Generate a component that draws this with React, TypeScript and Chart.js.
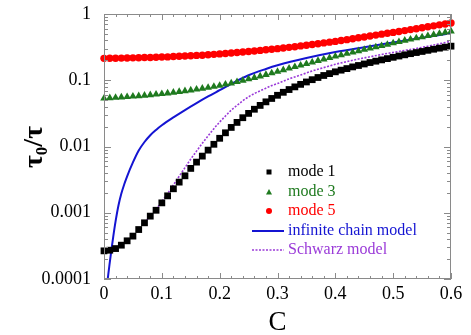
import React, { useEffect, useRef } from 'react';
import { Chart, registerables } from 'chart.js';

Chart.register(...registerables);

const FONT = '"Liberation Serif", "Times New Roman", serif';

// x grid of the simulated modes (C)
const C_MODE = [
  0, 0.01, 0.02, 0.03, 0.04, 0.05, 0.06, 0.07, 0.08, 0.09,
  0.1, 0.11, 0.12, 0.13, 0.14, 0.15, 0.16, 0.17, 0.18, 0.19,
  0.2, 0.21, 0.22, 0.23, 0.24, 0.25, 0.26, 0.27, 0.28, 0.29,
  0.3, 0.31, 0.32, 0.33, 0.34, 0.35, 0.36, 0.37, 0.38, 0.39,
  0.4, 0.41, 0.42, 0.43, 0.44, 0.45, 0.46, 0.47, 0.48, 0.49,
  0.5, 0.51, 0.52, 0.53, 0.54, 0.55, 0.56, 0.57, 0.58, 0.59, 0.6,
];

const MODE1 = [
  0.000266, 0.000272, 0.000288, 0.000324, 0.000377, 0.000444, 0.000558, 0.000705, 0.000889, 0.00109,
  0.00141, 0.0018, 0.0023, 0.0029, 0.00361, 0.00467, 0.00581, 0.00716, 0.00881, 0.0108,
  0.0133, 0.0161, 0.0194, 0.0231, 0.0272, 0.0316, 0.0365, 0.0417, 0.0472, 0.0531,
  0.0593, 0.0658, 0.0724, 0.0794, 0.0867, 0.0942, 0.102, 0.11, 0.118, 0.126,
  0.134, 0.142, 0.15, 0.159, 0.167, 0.176, 0.185, 0.194, 0.203, 0.212,
  0.222, 0.232, 0.242, 0.252, 0.262, 0.272, 0.283, 0.294, 0.305, 0.316, 0.327,
];

const MODE3 = [
  0.0533, 0.054, 0.0547, 0.0555, 0.0562, 0.057, 0.0579, 0.0589, 0.06, 0.0611,
  0.0624, 0.0638, 0.0653, 0.067, 0.0689, 0.0708, 0.0729, 0.0752, 0.0776, 0.0804,
  0.0832, 0.0865, 0.0902, 0.0944, 0.0989, 0.104, 0.109, 0.115, 0.121, 0.128,
  0.135, 0.143, 0.151, 0.159, 0.168, 0.177, 0.187, 0.197, 0.208, 0.218,
  0.229, 0.24, 0.252, 0.264, 0.277, 0.29, 0.303, 0.316, 0.33, 0.345,
  0.363, 0.38, 0.398, 0.414, 0.432, 0.449, 0.468, 0.486, 0.507, 0.527, 0.55,
];

const MODE5 = [
  0.214, 0.215, 0.215, 0.216, 0.217, 0.218, 0.219, 0.22, 0.221, 0.222,
  0.224, 0.225, 0.228, 0.23, 0.232, 0.234, 0.237, 0.239, 0.243, 0.246,
  0.25, 0.254, 0.258, 0.262, 0.267, 0.272, 0.277, 0.282, 0.288, 0.294,
  0.3, 0.307, 0.314, 0.321, 0.33, 0.338, 0.347, 0.356, 0.366, 0.376,
  0.386, 0.398, 0.41, 0.423, 0.437, 0.45, 0.465, 0.48, 0.496, 0.512,
  0.528, 0.545, 0.562, 0.581, 0.6, 0.619, 0.641, 0.662, 0.686, 0.708, 0.733,
];

// infinite chain model curve
const C_CHAIN = [
  0.005, 0.0065, 0.01, 0.013, 0.016, 0.02, 0.025, 0.03, 0.035, 0.04,
  0.05, 0.06, 0.07, 0.08, 0.09, 0.1, 0.12, 0.14, 0.16, 0.18, 0.2, 0.22,
  0.25, 0.28, 0.3, 0.35, 0.4, 0.45, 0.5, 0.55, 0.6,
];
const CHAIN = [
  0.0000708, 0.0001, 0.000178, 0.000282, 0.000437, 0.000741, 0.00129, 0.00195, 0.00269, 0.00355,
  0.00575, 0.00871, 0.0117, 0.0148, 0.0178, 0.0209, 0.0275, 0.0355, 0.0452, 0.0569, 0.0708, 0.0881,
  0.119, 0.148, 0.168, 0.216, 0.266, 0.316, 0.372, 0.437, 0.513,
];

// Schwarz model curve
const C_SCHWARZ = [
  0.07, 0.08, 0.09, 0.1, 0.11, 0.12, 0.13, 0.14, 0.15, 0.16, 0.17, 0.18,
  0.19, 0.2, 0.21, 0.22, 0.23, 0.24, 0.25, 0.26, 0.27, 0.28, 0.29, 0.3,
  0.32, 0.34, 0.36, 0.38, 0.4, 0.42, 0.44, 0.46, 0.48, 0.5, 0.52, 0.54, 0.56, 0.58, 0.6,
];
const SCHWARZ = [
  0.000708, 0.000891, 0.00112, 0.00148, 0.00195, 0.00263, 0.00355, 0.00479, 0.00646, 0.00851, 0.0112, 0.0145,
  0.0186, 0.0234, 0.0288, 0.0355, 0.0417, 0.049, 0.0562, 0.0631, 0.0692, 0.0759, 0.0832, 0.0891,
  0.105, 0.12, 0.138, 0.155, 0.174, 0.191, 0.209, 0.226, 0.245, 0.263, 0.282, 0.302, 0.327, 0.355, 0.389,
];

const X_TICKS = [0, 0.1, 0.2, 0.3, 0.4, 0.5, 0.6];
const X_TICK_LABELS = ['0', '0.1', '0.2', '0.3', '0.4', '0.5', '0.6'];
const Y_TICKS = [0.0001, 0.001, 0.01, 0.1, 1];
const Y_TICK_LABELS = ['0.0001', '0.001', '0.01', '0.1', '1'];

const SERIES_NAMES = ['mode 1', 'mode 3', 'mode 5', 'infinite chain model', 'Schwarz model'];
const X_TITLE = 'C';

const COL_BLACK = '#000000';
const COL_GREEN = '#1f7a1f';
const COL_RED = '#ff0000';
const COL_BLUE = '#1414d2';
const COL_PURPLE = '#9a3ad8';
const COL_FRAME = '#8a8a8a';

export default function App() {
  const ref = useRef<HTMLCanvasElement>(null);

  useEffect(() => {
    const pts = (xs: number[], ys: number[]) => xs.map((x, i) => ({ x, y: ys[i] }));

    const decorPlugin = {
      id: 'decor',
      afterDatasetsDraw(chart: any) {
        const ctx = chart.ctx as CanvasRenderingContext2D;
        const a = chart.chartArea;
        const xs = chart.scales.x;
        const ys = chart.scales.y;
        ctx.save();
        // frame
        ctx.strokeStyle = COL_FRAME;
        ctx.lineWidth = 1;
        ctx.strokeRect(Math.round(a.left) + 0.5, Math.round(a.top) + 0.5, Math.round(a.right - a.left) - 1, Math.round(a.bottom - a.top) - 1);
        // x ticks (major every 0.1, minor every 0.02), inward on bottom and top
        ctx.beginPath();
        for (let k = 0; k <= 30; k++) {
          const v = k * 0.02;
          const px = Math.round(xs.getPixelForValue(v)) + 0.5;
          const len = k % 5 === 0 ? 6 : 3;
          ctx.moveTo(px, a.bottom);
          ctx.lineTo(px, a.bottom - len);
          ctx.moveTo(px, a.top);
          ctx.lineTo(px, a.top + len);
        }
        // y ticks (decades major, 2..9 minor)
        for (let d = -4; d <= 0; d++) {
          const base = Math.pow(10, d);
          for (let m = 1; m <= 9; m++) {
            const v = base * m;
            const py = Math.round(ys.getPixelForValue(v)) + 0.5;
            const len = m === 1 ? 7 : 4;
            ctx.moveTo(a.left, py);
            ctx.lineTo(a.left + len, py);
            ctx.moveTo(a.right, py);
            ctx.lineTo(a.right - len, py);
            if (d === 0) break;
          }
        }
        ctx.stroke();

        // legend
        const lx = 269;
        const tx = 288;
        const rows = [172, 192, 211, 231, 250];
        ctx.font = `16px ${FONT}`;
        ctx.textBaseline = 'middle';
        ctx.textAlign = 'left';
        // mode 1 square
        ctx.fillStyle = COL_BLACK;
        ctx.fillRect(lx - 2.5, rows[0] - 2.5, 5, 5);
        ctx.fillText(SERIES_NAMES[0], tx, rows[0]);
        // mode 3 triangle
        ctx.fillStyle = COL_GREEN;
        ctx.beginPath();
        ctx.moveTo(lx, rows[1] - 3);
        ctx.lineTo(lx + 3, rows[1] + 2.5);
        ctx.lineTo(lx - 3, rows[1] + 2.5);
        ctx.closePath();
        ctx.fill();
        ctx.fillText(SERIES_NAMES[1], tx, rows[1]);
        // mode 5 circle
        ctx.fillStyle = COL_RED;
        ctx.beginPath();
        ctx.arc(lx, rows[2], 3, 0, Math.PI * 2);
        ctx.fill();
        ctx.fillText(SERIES_NAMES[2], tx, rows[2]);
        // infinite chain line
        ctx.strokeStyle = COL_BLUE;
        ctx.lineWidth = 2;
        ctx.beginPath();
        ctx.moveTo(252, rows[3]);
        ctx.lineTo(284, rows[3]);
        ctx.stroke();
        ctx.fillStyle = COL_BLUE;
        ctx.fillText(SERIES_NAMES[3], tx, rows[3]);
        // Schwarz dotted line
        ctx.strokeStyle = COL_PURPLE;
        ctx.lineWidth = 1.5;
        ctx.setLineDash([2, 1.5]);
        ctx.beginPath();
        ctx.moveTo(252, rows[4]);
        ctx.lineTo(284, rows[4]);
        ctx.stroke();
        ctx.setLineDash([]);
        ctx.fillStyle = COL_PURPLE;
        ctx.fillText(SERIES_NAMES[4], tx, rows[4]);

        // x-axis title
        ctx.fillStyle = '#000';
        ctx.font = `27px ${FONT}`;
        ctx.textAlign = 'center';
        ctx.textBaseline = 'alphabetic';
        ctx.fillText(X_TITLE, (a.left + a.right) / 2, 330);

        // y-axis title: tau_0 / tau (rotated)
        const big = `bold 28px ${FONT}`;
        const small = `bold 17px ${FONT}`;
        ctx.font = big;
        const wT = ctx.measureText('τ').width;
        const wS = ctx.measureText('/τ').width;
        ctx.font = small;
        const w0 = ctx.measureText('0').width;
        const total = wT + w0 + wS;
        ctx.translate(42, 147 + total / 2);
        ctx.rotate(-Math.PI / 2);
        ctx.textAlign = 'left';
        ctx.font = big;
        ctx.fillText('τ', 0, 0);
        ctx.font = small;
        ctx.fillText('0', wT, 5);
        ctx.font = big;
        ctx.fillText('/τ', wT + w0, 0);
        ctx.restore();
      },
    };

    const chart = new Chart(ref.current as HTMLCanvasElement, {
      type: 'line',
      data: {
        datasets: [
          {
            label: SERIES_NAMES[0],
            data: pts(C_MODE, MODE1),
            showLine: false,
            pointStyle: 'rect',
            pointRadius: 4.8,
            pointBackgroundColor: COL_BLACK,
            pointBorderWidth: 0,
            borderColor: COL_BLACK,
            backgroundColor: COL_BLACK,
            clip: false,
          },
          {
            label: SERIES_NAMES[1],
            data: pts(C_MODE, MODE3),
            showLine: false,
            pointStyle: 'triangle',
            pointRadius: 4.4,
            pointBackgroundColor: COL_GREEN,
            pointBorderWidth: 0,
            borderColor: COL_GREEN,
            backgroundColor: COL_GREEN,
            clip: false,
          },
          {
            label: SERIES_NAMES[2],
            data: pts(C_MODE, MODE5),
            showLine: false,
            pointStyle: 'circle',
            pointRadius: 3.7,
            pointBackgroundColor: COL_RED,
            pointBorderWidth: 0,
            borderColor: COL_RED,
            backgroundColor: COL_RED,
            clip: false,
          },
          {
            label: SERIES_NAMES[3],
            data: pts(C_CHAIN, CHAIN),
            borderColor: COL_BLUE,
            borderWidth: 2,
            pointRadius: 0,
            cubicInterpolationMode: 'monotone',
            fill: false,
          },
          {
            label: SERIES_NAMES[4],
            data: pts(C_SCHWARZ, SCHWARZ),
            borderColor: COL_PURPLE,
            borderWidth: 1.6,
            borderDash: [2, 1.5],
            pointRadius: 0,
            cubicInterpolationMode: 'monotone',
            fill: false,
          },
        ],
      },
      options: {
        animation: false,
        responsive: false,
        events: [],
        layout: { padding: { left: 0, top: 14, right: 20, bottom: 0 } },
        plugins: { legend: { display: false }, tooltip: { enabled: false } },
        scales: {
          x: {
            type: 'linear',
            min: 0,
            max: 0.6,
            afterFit: (s: any) => {
              s.height = 56;
              s.paddingLeft = 0;
              s.paddingRight = 0;
            },
            afterBuildTicks: (s: any) => {
              s.ticks = X_TICKS.map((v) => ({ value: v }));
            },
            grid: { display: false, drawTicks: false },
            border: { display: false },
            ticks: {
              font: { family: FONT, size: 18 },
              color: '#000',
              padding: 4,
              maxRotation: 0,
              autoSkip: false,
              callback: (_v: any, i: number) => X_TICK_LABELS[i],
            },
          },
          y: {
            type: 'logarithmic',
            min: 0.0001,
            max: 1,
            afterFit: (s: any) => {
              s.width = 104;
              s.paddingTop = 0;
              s.paddingBottom = 0;
            },
            afterBuildTicks: (s: any) => {
              s.ticks = Y_TICKS.map((v) => ({ value: v }));
            },
            grid: { display: false, drawTicks: false },
            border: { display: false },
            ticks: {
              font: { family: FONT, size: 18 },
              color: '#000',
              padding: 13,
              autoSkip: false,
              callback: (_v: any, i: number) => Y_TICK_LABELS[i],
            },
          },
        },
      },
      plugins: [decorPlugin],
    } as any);

    return () => chart.destroy();
  }, []);

  return (
    <div style={{ position: 'absolute', left: 0, top: 0, width: 471, height: 335, background: '#fff' }}>
      <canvas ref={ref} width={471} height={335} style={{ display: 'block' }} />
    </div>
  );
}
